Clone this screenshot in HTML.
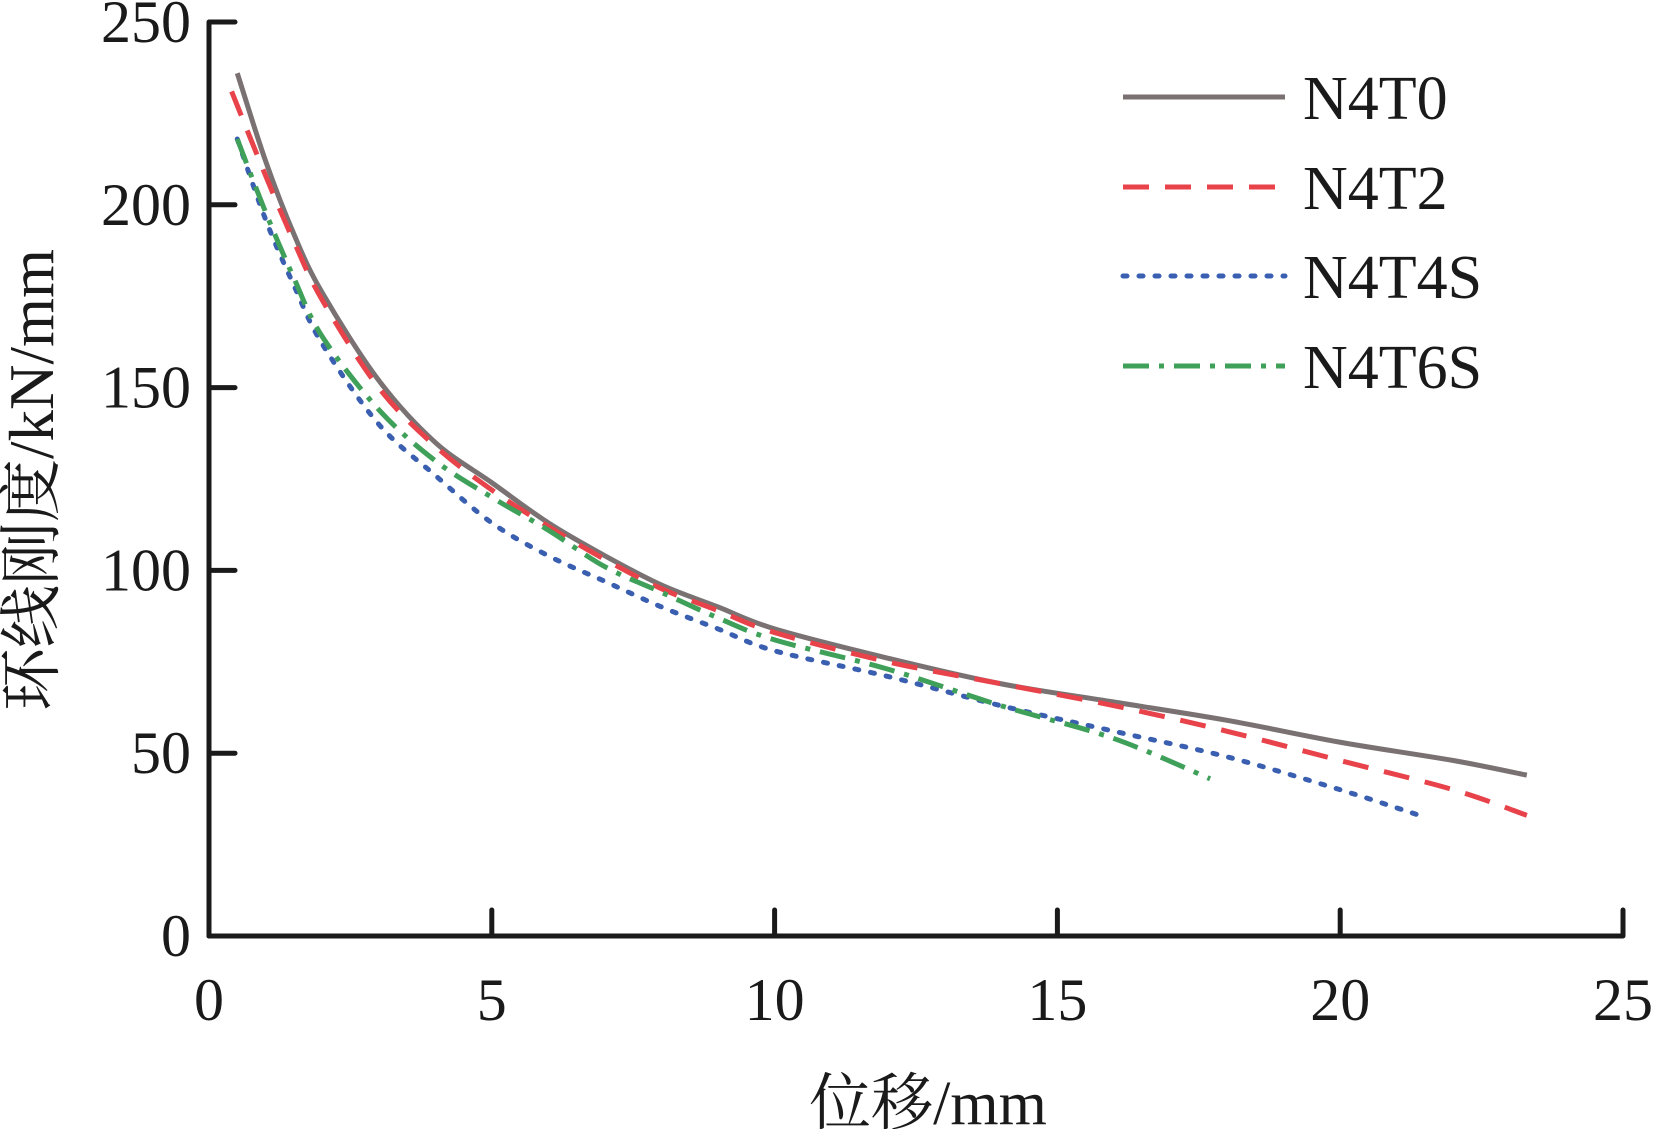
<!DOCTYPE html>
<html><head><meta charset="utf-8"><style>
html,body{margin:0;padding:0;background:#fff;}
svg{display:block;}
text{font-family:"Liberation Serif","Noto Serif CJK SC",serif;fill:#1a1a1a;}
</style></head><body>
<svg id="chart" width="1654" height="1129" viewBox="0 0 1654 1129" xmlns="http://www.w3.org/2000/svg"></svg>
<script>
const xTicks=[0,5,10,15,20,25];
const yTicks=[0,50,100,150,200,250];
const seriesNames=["N4T0","N4T2","N4T4S","N4T6S"];
const n4t0X=[0.5,1,1.5,2,3,4,5,6,7,8,9,10,12,14,16,18,20,22,23.3];
const n4t0Y=[236,212,192,176,152,135,124,113,104,96,90,84,76,69,64,59,53,48,44];
const n4t2X=[0.4,1,1.5,2,3,4,5,6,7,8,9,10,12,14,16,18,20,22,23.3];
const n4t2Y=[231,208,190,174,150,134,122,112,103,95,89,83,75,69,63,56,48,40,33];
const n4t4sX=[0.5,1,1.5,2,3,4,5,6,7,8,9,10,12,14,16,18,20,21.4];
const n4t4sY=[218,196,178,162,140,126,113,104,97,90,84,78,71,63,56,49,40,33];
const n4t6sX=[0.5,1,1.5,2,3,4,5,6,7,8,9,10,12,14,16,17.7];
const n4t6sY=[218,198,180,164,144,130,120,111,101,94,87,81,73,63,54,43];

const NS="http://www.w3.org/2000/svg";
const svg=document.getElementById('chart');
const X0=209,X1=1623,Y0=936,Y1=22;
const sx=v=>X0+(v-0)/25*(X1-X0);
const sy=v=>Y0-(v-0)/250*(Y0-Y1);
function mk(tag,attrs,parent){const e=document.createElementNS(NS,tag);for(const k in attrs)e.setAttribute(k,attrs[k]);(parent||svg).appendChild(e);return e;}

const axes=mk('path',{d:`M${X0},${Y1} V${Y0} H${X1}`,fill:'none',stroke:'#1a1a1a','stroke-width':5,'stroke-linejoin':'round'});



xTicks.forEach(t=>{
  const l=mk('line',{x1:sx(t),x2:sx(t),y1:Y0,y2:Y0-26,stroke:'#1a1a1a','stroke-width':5,'stroke-linecap':'round'});
  
  
  const tx=mk('text',{x:sx(t),y:1020,'text-anchor':'middle','font-size':60});
  tx.textContent=t;
  
  
});
yTicks.forEach(t=>{
  const l=mk('line',{x1:X0,x2:X0+26,y1:sy(t),y2:sy(t),stroke:'#1a1a1a','stroke-width':5,'stroke-linecap':'round'});
  
  
  const tx=mk('text',{x:191,y:sy(t)+20,'text-anchor':'end','font-size':60});
  tx.textContent=t;
  
  
});

const xt=mk('text',{x:928,y:1124,'text-anchor':'middle','font-size':62});
xt.textContent='位移/mm';


const yt=mk('text',{x:0,y:0,'text-anchor':'middle','font-size':63,transform:'translate(53,480) rotate(-90)'});
yt.textContent='环线刚度/kN/mm';



const styles=[
 {c:'#7a7272',d:'none'},
 {c:'#e8424a',d:'26 16'},
 {c:'#3a5fb0',d:'4 12'},
 {c:'#3fa05a',d:'26 10 5 10'}];
const xs=[n4t0X,n4t2X,n4t4sX,n4t6sX], ys=[n4t0Y,n4t2Y,n4t4sY,n4t6sY];
const lyY=[97,187,276,366];
seriesNames.forEach((n,i)=>{
  const pts=xs[i].map((x,j)=>[sx(x),sy(ys[i][j])]);
  let d=`M${pts[0][0]},${pts[0][1]}`;
  for(let j=0;j<pts.length-1;j++){
    const p0=pts[Math.max(j-1,0)],p1=pts[j],p2=pts[j+1],p3=pts[Math.min(j+2,pts.length-1)];
    const c1=[p1[0]+(p2[0]-p0[0])/6,p1[1]+(p2[1]-p0[1])/6];
    const c2=[p2[0]-(p3[0]-p1[0])/6,p2[1]-(p3[1]-p1[1])/6];
    d+=` C${c1[0]},${c1[1]} ${c2[0]},${c2[1]} ${p2[0]},${p2[1]}`;
  }
  const p=mk('path',{d,fill:'none',stroke:styles[i].c,'stroke-width':5,'stroke-dasharray':styles[i].d,'stroke-linecap':i==2?'round':'butt'});
  
  
  const ll=mk('line',{x1:1123,x2:1285,y1:lyY[i],y2:lyY[i],stroke:styles[i].c,'stroke-width':5,'stroke-dasharray':styles[i].d,'stroke-linecap':i==2?'round':'butt'});
  
  
  const lt=mk('text',{x:1303,y:lyY[i]+22,'font-size':62});
  lt.textContent=n;
  
  
});
</script>
</body></html>
